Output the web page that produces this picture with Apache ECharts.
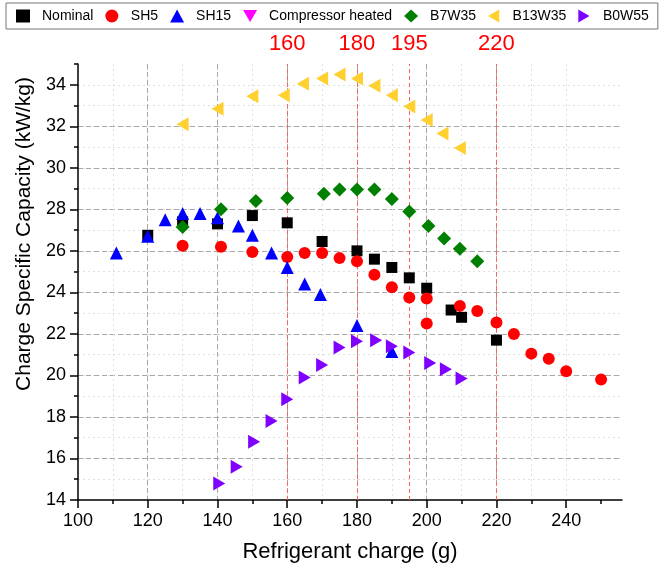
<!DOCTYPE html>
<html>
<head>
<meta charset="utf-8">
<script src="https://cdn.jsdelivr.net/npm/echarts@6/dist/echarts.min.js"></script>
<style>
  html, body { margin: 0; padding: 0; background: #fff; }
  #chart { width: 660px; height: 572px; }
</style>
</head>
<body>
<div id="chart"></div>
<script>
// Refrigerant charge (g) vs. charge specific capacity (kW/kg)
const nominalX = [120, 130, 140, 150, 160, 170, 180, 185, 190, 195, 200, 207, 210, 220];
const nominalY = [26.75, 27.4, 27.3, 27.7, 27.35, 26.45, 26.0, 25.6, 25.2, 24.7, 24.2, 23.15, 22.8, 21.7];

const sh5X = [130, 141, 150, 160, 165, 170, 175, 180, 185, 190, 195, 200, 200, 209.5, 214.5, 220, 225, 230, 235, 240, 250];
const sh5Y = [26.25, 26.2, 25.95, 25.7, 25.9, 25.9, 25.65, 25.5, 24.85, 24.25, 23.75, 23.7, 22.5, 23.35, 23.1, 22.55, 22.0, 21.05, 20.8, 20.2, 19.8];

const sh15X = [111, 120, 125, 130, 135, 140, 146, 150, 155.5, 160, 165, 169.5, 180, 190];
const sh15Y = [25.9, 26.7, 27.5, 27.8, 27.8, 27.6, 27.2, 26.75, 25.9, 25.2, 24.4, 23.9, 22.4, 21.15];

const compHeatedX = [];
const compHeatedY = [];

const b7w35X = [130, 141, 151, 160, 170.5, 175, 180, 185, 190, 195, 200.5, 205, 209.5, 214.5];
const b7w35Y = [27.15, 28.0, 28.4, 28.55, 28.75, 28.95, 28.95, 28.95, 28.5, 27.9, 27.2, 26.6, 26.1, 25.5];

const b13w35X = [130, 140, 150, 159, 164.5, 170, 175, 180, 185, 190, 195, 200, 204.5, 209.5];
const b13w35Y = [32.1, 32.85, 33.45, 33.5, 34.05, 34.3, 34.5, 34.3, 33.95, 33.5, 32.95, 32.3, 31.65, 30.95];

const b0w55X = [140.5, 145.5, 150.5, 155.5, 160, 165, 170, 175, 180, 185.5, 190, 195, 201, 205.5, 210];
const b0w55Y = [14.8, 15.6, 16.8, 17.8, 18.85, 19.9, 20.5, 21.35, 21.65, 21.7, 21.4, 21.1, 20.6, 20.3, 19.85];

// Reference charges marked with vertical lines
const refCharges = [160, 180, 195, 220];

// Axis ticks
const xMinorTicks = [100, 110, 120, 130, 140, 150, 160, 170, 180, 190, 200, 210, 220, 230, 240, 250];
const xMajorTicks = [100, 120, 140, 160, 180, 200, 220, 240];
const yMinorTicks = [14, 15, 16, 17, 18, 19, 20, 21, 22, 23, 24, 25, 26, 27, 28, 29, 30, 31, 32, 33, 34, 35];
const yMajorTicks = [14, 16, 18, 20, 22, 24, 26, 28, 30, 32, 34];

const FONT = "'Liberation Sans', Arial, sans-serif";

// triangle shapes pointing down / left / right
const TRI_DOWN = 'path://M0,0L2,0L1,1.732Z';
const TRI_LEFT = 'path://M0,1L1.732,0L1.732,2Z';
const TRI_RIGHT = 'path://M0,0L1.732,1L0,2Z';

function pairs(xs, ys) { return xs.map((x, i) => [x, ys[i]]); }

const chart = echarts.init(document.getElementById('chart'), null, { renderer: 'canvas' });

const baseSeries = (name, xs, ys, symbol, size, color) => ({
  name: name,
  type: 'scatter',
  data: pairs(xs, ys),
  symbol: symbol,
  symbolSize: size,
  itemStyle: { color: color, opacity: 1 },
  emphasis: { disabled: true },
  z: 5
});

const series = [
  baseSeries('Nominal', nominalX, nominalY, 'rect', 11, '#000000'),
  baseSeries('SH5', sh5X, sh5Y, 'circle', 12, '#ff0000'),
  baseSeries('SH15', sh15X, sh15Y, 'triangle', 13, '#0000ff'),
  baseSeries('Compressor heated', compHeatedX, compHeatedY, TRI_DOWN, [13, 11], '#ff00ff'),
  baseSeries('B7W35', b7w35X, b7w35Y, 'diamond', 14, '#008000'),
  baseSeries('B13W35', b13w35X, b13w35Y, TRI_LEFT, [12, 14], '#ffd030'),
  baseSeries('B0W55', b0w55X, b0w55Y, TRI_RIGHT, [12, 14], '#8000ff')
];

// vertical reference lines with their labels above the plot
series[0].markLine = {
  silent: true,
  symbol: 'none',
  lineStyle: { color: '#ff6060', type: [4, 3], width: 1 },
  label: {
    show: true,
    position: 'end',
    distance: 9,
    formatter: p => String(p.value),
    color: '#ff0000',
    fontSize: 22,
    fontFamily: FONT
  },
  data: refCharges.map(v => ({ xAxis: v }))
};

const option = {
  backgroundColor: '#ffffff',
  animation: false,
  textStyle: { fontFamily: FONT },
  legend: {
    left: 6,
    top: 3,
    width: 660,
    padding: [6, 9, 6, 10],
    itemGap: 12,
    itemWidth: 14,
    itemHeight: 13,
    borderColor: '#777777',
    borderWidth: 1,
    textStyle: { fontSize: 14, color: '#000', fontFamily: FONT, padding: [0, 0, 0, 7] },
    data: ['Nominal', 'SH5', 'SH15', 'Compressor heated', 'B7W35', 'B13W35', 'B0W55']
  },
  grid: { left: 78, right: 38, top: 64, bottom: 72, containLabel: false },
  xAxis: [
    {
      type: 'value', min: 100, max: 256,
      name: 'Refrigerant charge (g)', nameLocation: 'middle', nameGap: 41,
      nameTextStyle: { fontSize: 22, color: '#000', fontFamily: FONT },
      axisLine: { show: true, onZero: false, lineStyle: { color: '#000', width: 1.5 } },
      axisTick: { show: true, customValues: xMinorTicks, length: 4, inside: false, lineStyle: { color: '#000', width: 1.5 } },
      axisLabel: { customValues: xMajorTicks, fontSize: 18, color: '#000', margin: 12, fontFamily: FONT },
      splitLine: { show: true, showMinLine: false, showMaxLine: false, lineStyle: { color: '#e0e0e0', type: [2, 3], width: 1 } }
    },
    {
      type: 'value', min: 100, max: 256, position: 'bottom',
      axisLine: { show: false },
      axisTick: { show: true, customValues: xMajorTicks, length: 8, lineStyle: { color: '#000', width: 1.5 } },
      axisLabel: { show: false },
      splitLine: { show: true, showMinLine: false, showMaxLine: false, lineStyle: { color: '#a8a8a8', type: [5, 3], width: 1 } }
    }
  ],
  yAxis: [
    {
      type: 'value', min: 14, max: 35,
      name: 'Charge Specific Capacity (kW/kg)', nameLocation: 'middle', nameGap: 37,
      nameTextStyle: { fontSize: 21, color: '#000', fontFamily: FONT, padding: [0, 0, 0, 96] },
      axisLine: { show: true, onZero: false, lineStyle: { color: '#000', width: 1.5 } },
      axisTick: { show: true, customValues: yMinorTicks, length: 4, lineStyle: { color: '#000', width: 1.5 } },
      axisLabel: { customValues: yMajorTicks, fontSize: 18, color: '#000', margin: 12, fontFamily: FONT },
      splitLine: { show: true, showMinLine: false, showMaxLine: false, lineStyle: { color: '#e0e0e0', type: [2, 3], width: 1 } }
    },
    {
      type: 'value', min: 14, max: 35, position: 'left',
      axisLine: { show: false },
      axisTick: { show: true, customValues: yMajorTicks, length: 8, lineStyle: { color: '#000', width: 1.5 } },
      axisLabel: { show: false },
      splitLine: { show: true, showMinLine: false, showMaxLine: false, lineStyle: { color: '#a8a8a8', type: [5, 3], width: 1 } }
    }
  ],
  series: series
};

chart.setOption(option);
</script>
</body>
</html>
